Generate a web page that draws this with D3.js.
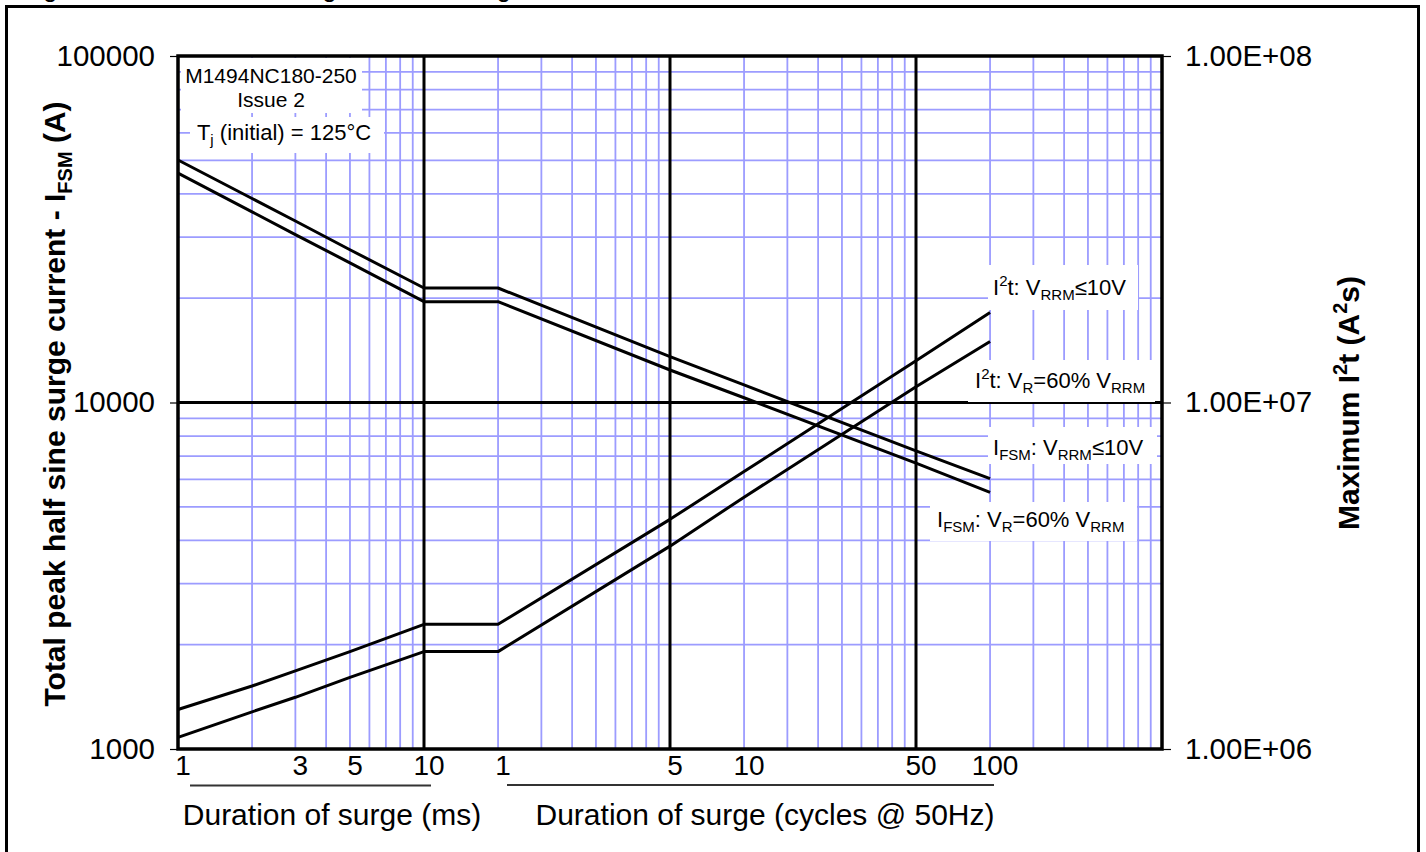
<!DOCTYPE html>
<html>
<head>
<meta charset="utf-8">
<script src="https://cdn.jsdelivr.net/npm/d3@7"></script>
<style>
  body { margin: 0; background: #fff; }
  svg { display: block; font-family: Arial, "Liberation Sans", sans-serif; }
</style>
</head>
<body>
<svg width="1426" height="852"></svg>
<script>
const svg = d3.select('svg');

// surge duration of each data point, in ms (1 cycle @ 50Hz = 20 ms)
const durationMs = [1, 2, 3, 5, 10, 20, 100, 200, 1000, 2000];

// peak surge current (A), left axis
const ifsm10V = [50100, 38800, 33400, 27600, 21400, 21400, 13560, 11240, 7250, 6030];
const ifsm60 = [45900, 35500, 30500, 25300, 19540, 19540, 12410, 10320, 6680, 5500];

// I2t (A2s), right axis
const i2t10V = [1.30e6, 1.52e6, 1.68e6, 1.91e6, 2.29e6, 2.29e6, 4.60e6, 6.32e6, 1.32e7, 1.82e7];
const i2t60 = [1.08e6, 1.28e6, 1.41e6, 1.61e6, 1.91e6, 1.91e6, 3.85e6, 5.33e6, 1.11e7, 1.50e7];

// x tick labels: ms for the first decade, then cycles @ 50Hz
const xTickMs = [1, 3, 5, 10, 20, 100, 200, 1000, 2000];
const xTickText = ['1', '3', '5', '10', '1', '5', '10', '50', '100'];

const leftTicks = [1000, 10000, 100000];
const rightTicks = [1e6, 1e7, 1e8];
const rightTickText = ['1.00E+06', '1.00E+07', '1.00E+08'];

const pL = 178, pR = 1162, pT = 56, pB = 749;

const x = d3.scaleLog().domain([1, 10000]).range([pL, pR]);
const yI = d3.scaleLog().domain([1000, 100000]).range([pB, pT]);
const yT = d3.scaleLog().domain([1e6, 1e8]).range([pB, pT]);

const BLUE = '#9c9cff';

// outer frame (bottom edge runs off the picture)
svg.append('rect')
    .attr('x', 6.5).attr('y', 6.5)
    .attr('width', 1412).attr('height', 900)
    .attr('fill', 'none').attr('stroke', '#000').attr('stroke-width', 3);

// figure caption, cropped off above the frame
svg.append('text')
    .attr('x', 22).attr('y', -3)
    .attr('font-size', 25.5)
    .text('Figure 10 \u2014 Maximum surge and I\u00b2t Ratings');

// minor grid
const leading = d => Math.round(d / Math.pow(10, Math.floor(Math.log10(d) + 1e-9)));
const xMinor = x.ticks().filter(d => leading(d) !== 1);
const yMinor = yI.ticks().filter(d => leading(d) !== 1);

const grid = svg.append('g').attr('stroke', BLUE).attr('stroke-width', 1.8);
grid.selectAll('.vx').data(xMinor).enter().append('line')
    .attr('x1', d => x(d)).attr('x2', d => x(d))
    .attr('y1', pT).attr('y2', pB);
grid.selectAll('.hy').data(yMinor).enter().append('line')
    .attr('y1', d => yI(d)).attr('y2', d => yI(d))
    .attr('x1', pL).attr('x2', pR);

// major grid
const major = svg.append('g').attr('stroke', '#000').attr('stroke-width', 3);
major.selectAll('.mx').data([10, 100, 1000]).enter().append('line')
    .attr('x1', d => x(d)).attr('x2', d => x(d))
    .attr('y1', pT).attr('y2', pB);
major.append('line')
    .attr('x1', pL).attr('x2', pR)
    .attr('y1', yI(10000)).attr('y2', yI(10000));

// curves
const lineI = d3.line().x((d, i) => x(durationMs[i])).y(d => yI(d));
const lineT = d3.line().x((d, i) => x(durationMs[i])).y(d => yT(d));

[[ifsm10V, lineI], [ifsm60, lineI], [i2t10V, lineT], [i2t60, lineT]].forEach(([vals, gen]) => {
    svg.append('path')
        .attr('d', gen(vals))
        .attr('fill', 'none')
        .attr('stroke', '#000')
        .attr('stroke-width', 3)
        .attr('stroke-linejoin', 'round');
});

// text with sub/superscripts
function richText(sel, parts, size, ratio) {
    ratio = ratio || 0.68;
    let shift = 0;
    parts.forEach(p => {
        const kind = p[1] || 'n';
        const s = kind === 'n' ? size : Math.round(size * ratio);
        const target = kind === 'sub' ? size * 0.24 : kind === 'sup' ? -size * 0.4 : 0;
        sel.append('tspan').attr('font-size', s).attr('dy', target - shift).text(p[0]);
        shift = target;
    });
}

function whiteBox(x0, y0, x1, y1) {
    svg.append('rect')
        .attr('x', x0).attr('y', y0)
        .attr('width', x1 - x0).attr('height', y1 - y0)
        .attr('fill', '#fff');
}

// device info box
whiteBox(181, 58, 362, 113);
whiteBox(190, 117, 384, 153);
svg.append('text').attr('x', 271).attr('y', 83).attr('text-anchor', 'middle')
    .attr('font-size', 21).text('M1494NC180-250');
svg.append('text').attr('x', 271).attr('y', 107).attr('text-anchor', 'middle')
    .attr('font-size', 21).text('Issue 2');
richText(svg.append('text').attr('x', 284).attr('y', 140).attr('text-anchor', 'middle'),
    [['T'], ['j', 'sub'], [' (initial) = 125\u00b0C']], 22);

// series labels
const labels = [
    {box: [988, 265, 1138, 310], x: 993, y: 295,
        parts: [['I'], ['2', 'sup'], ['t: V'], ['RRM', 'sub'], ['\u226410V']]},
    {box: [968, 360, 1155, 402], x: 975, y: 388,
        parts: [['I'], ['2', 'sup'], ['t: V'], ['R', 'sub'], ['=60% V'], ['RRM', 'sub']]},
    {box: [988, 427, 1157, 464], x: 993, y: 455,
        parts: [['I'], ['FSM', 'sub'], [': V'], ['RRM', 'sub'], ['\u226410V']]},
    {box: [930, 502, 1137, 541], x: 937, y: 527,
        parts: [['I'], ['FSM', 'sub'], [': V'], ['R', 'sub'], ['=60% V'], ['RRM', 'sub']]}
];
labels.forEach(l => {
    whiteBox(...l.box);
    richText(svg.append('text').attr('x', l.x).attr('y', l.y), l.parts, 22, 0.7);
});

// thin secondary-axis gridline at 1E+07
svg.append('line')
    .attr('x1', pL).attr('x2', pR)
    .attr('y1', yT(1e7)).attr('y2', yT(1e7))
    .attr('stroke', '#000').attr('stroke-width', 1.2);

// plot frame
svg.append('rect')
    .attr('x', pL).attr('y', pT)
    .attr('width', pR - pL).attr('height', pB - pT)
    .attr('fill', 'none').attr('stroke', '#000').attr('stroke-width', 3.5);

// axes
const axL = svg.append('g').attr('transform', `translate(${pL},0)`)
    .call(d3.axisLeft(yI).tickValues(leftTicks).tickFormat(d3.format('d')).tickSize(8).tickPadding(15));
const axR = svg.append('g').attr('transform', `translate(${pR},0)`)
    .call(d3.axisRight(yT).tickValues(rightTicks).tickFormat((d, i) => rightTickText[i]).tickSize(9).tickPadding(14));
[axL, axR].forEach(a => {
    a.select('.domain').remove();
    a.selectAll('line').attr('stroke-width', 1.2);
    a.selectAll('text').attr('font-size', 29.5).attr('font-family', 'Arial, "Liberation Sans", sans-serif').attr('fill', '#000');
});

// x tick labels
svg.selectAll('.xt').data(xTickMs).enter().append('text')
    .attr('x', d => x(d) + 5)
    .attr('y', 775)
    .attr('text-anchor', 'middle')
    .attr('font-size', 28)
    .text((d, i) => xTickText[i]);

// bracket lines under the two x ranges
svg.append('line').attr('x1', 190).attr('x2', 431).attr('y1', 785.5).attr('y2', 785.5)
    .attr('stroke', '#333').attr('stroke-width', 2);
svg.append('line').attr('x1', 507).attr('x2', 994).attr('y1', 785).attr('y2', 785)
    .attr('stroke', '#333').attr('stroke-width', 2);

svg.append('text').attr('x', 332).attr('y', 825).attr('text-anchor', 'middle')
    .attr('font-size', 30).text('Duration of surge (ms)');
svg.append('text').attr('x', 765).attr('y', 825).attr('text-anchor', 'middle')
    .attr('font-size', 30).text('Duration of surge (cycles @ 50Hz)');

// axis titles
richText(svg.append('text')
    .attr('transform', 'translate(65,404) rotate(-90)')
    .attr('text-anchor', 'middle').attr('font-weight', 'bold'),
    [['Total peak half sine surge current - I'], ['FSM', 'sub'], [' (A)']], 30);

richText(svg.append('text')
    .attr('transform', 'translate(1359,403) rotate(-90)')
    .attr('text-anchor', 'middle').attr('font-weight', 'bold'),
    [['Maximum I'], ['2', 'sup'], ['t (A'], ['2', 'sup'], ['s)']], 30);
</script>
</body>
</html>
